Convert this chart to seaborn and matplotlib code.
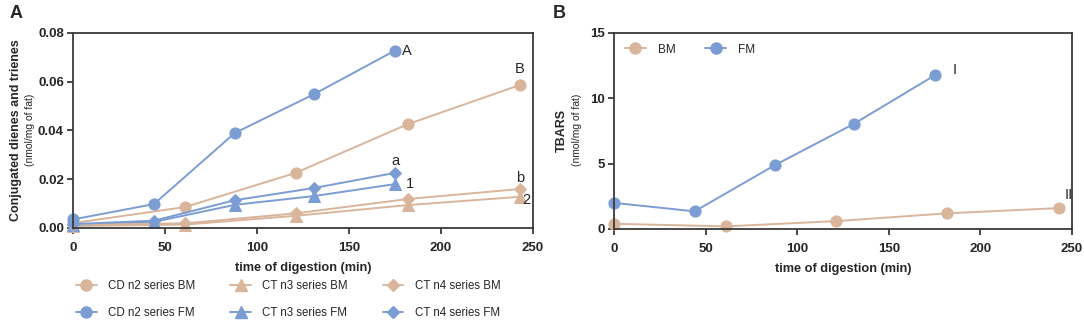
import numpy as np
import pandas as pd
import matplotlib
matplotlib.use("Agg")
import matplotlib.pyplot as plt
from matplotlib.lines import Line2D
import seaborn as sns

sns.set_style("ticks")
plt.rcParams['font.family'] = ['Liberation Sans', 'DejaVu Sans']

# time points (min)
t_fm = [0, 44, 88, 131, 175]
t_bm = [0, 61, 121, 182, 243]

# panel A: conjugated dienes / trienes (nmol/mg of fat)
cd_n2_bm = [0.002, 0.0086, 0.0226, 0.0426, 0.0587]
cd_n2_fm = [0.0035, 0.0098, 0.039, 0.0549, 0.0728]
ct_n3_bm = [0.0008, 0.0014, 0.005, 0.0094, 0.0128]
ct_n3_fm = [0.0012, 0.0025, 0.0095, 0.0131, 0.018]
ct_n4_bm = [0.0013, 0.0019, 0.006, 0.0119, 0.016]
ct_n4_fm = [0.0016, 0.003, 0.0114, 0.0164, 0.0226]

# panel B: TBARS (nmol/mg of fat)
tbars_bm = [0.4, 0.2, 0.6, 1.2, 1.6]
tbars_fm = [2.0, 1.35, 4.9, 8.05, 11.75]

blue = "#7b9dd3"
tan = "#d9b59b"
frame = "#3a3a3a"

fig = plt.figure(figsize=(10.84, 3.25), dpi=100)
axA = fig.add_axes([0.0673, 0.2985, 0.4244, 0.6])
axB = fig.add_axes([0.5664, 0.2954, 0.4225, 0.6031])

seriesA = [
    ("CD n2 series BM", t_bm, cd_n2_bm, tan, "o", 8),
    ("CD n2 series FM", t_fm, cd_n2_fm, blue, "o", 8),
    ("CT n3 series BM", t_bm, ct_n3_bm, tan, "^", 8.5),
    ("CT n3 series FM", t_fm, ct_n3_fm, blue, "^", 8.5),
    ("CT n4 series BM", t_bm, ct_n4_bm, tan, "D", 6),
    ("CT n4 series FM", t_fm, ct_n4_fm, blue, "D", 6),
]
for name, t, v, c, m, ms in seriesA:
    sns.lineplot(x=t, y=v, ax=axA, color=c, marker=m, markersize=ms,
                 markeredgecolor=c, linewidth=1.4, clip_on=False)

for name, t, v, c in [("BM", t_bm, tbars_bm, tan), ("FM", t_fm, tbars_fm, blue)]:
    sns.lineplot(x=t, y=v, ax=axB, color=c, marker="o", markersize=8,
                 markeredgecolor=c, linewidth=1.4, clip_on=False)

for ax in (axA, axB):
    ax.set_xlim(0, 250)
    ax.set_xticks([0, 50, 100, 150, 200, 250])
    for s in ax.spines.values():
        s.set_color(frame)
        s.set_linewidth(1.3)
    ax.tick_params(axis="both", labelsize=9.5, color=frame, width=1.3, length=4.5)
    ax.tick_params(axis="x", pad=5.5)
    ax.tick_params(axis="y", pad=2)
    for lab in ax.get_xticklabels() + ax.get_yticklabels():
        lab.set_fontweight("bold")
    ax.set_xlabel("time of digestion (min)", fontsize=9.2, fontweight="bold", labelpad=6)

axA.set_ylim(0, 0.08)
axA.set_yticks([0, 0.02, 0.04, 0.06, 0.08])
axA.set_yticklabels(["0.00", "0.02", "0.04", "0.06", "0.08"], fontweight="bold")
axB.set_ylim(0, 15)
axB.set_yticks([0, 5, 10, 15])
axB.set_yticklabels(["0", "5", "10", "15"], fontweight="bold")

# y labels (bold title + normal unit line)
fig.text(0.0145, 0.6, "Conjugated dienes and trienes", rotation=90, ha="center",
         va="center", fontsize=9, fontweight="bold")
fig.text(0.0278, 0.6, "(nmol/mg of fat)", rotation=90, ha="center", va="center", fontsize=7.5)
fig.text(0.5185, 0.6, "TBARS", rotation=90, ha="center", va="center",
         fontsize=9, fontweight="bold")
fig.text(0.532, 0.6, "(nmol/mg of fat)", rotation=90, ha="center", va="center", fontsize=7.5)

# panel letters
fig.text(0.009, 0.985, "A", fontsize=13, fontweight="bold", va="top")
fig.text(0.510, 0.985, "B", fontsize=13, fontweight="bold", va="top")

# end-of-line annotations
axA.text(179, 0.0728, "A", fontsize=10.5, va="center")
axA.text(243, 0.0625, "B", fontsize=10.5, ha="center", va="bottom")
axA.text(175, 0.0245, "a", fontsize=10.5, ha="center", va="bottom")
axA.text(181, 0.0182, "1", fontsize=10.5, va="center")
axA.text(243, 0.0175, "b", fontsize=10.5, ha="center", va="bottom")
axA.text(244, 0.0115, "2", fontsize=10.5, va="center")
axB.text(185, 12.2, "I", fontsize=10.5, va="center")
axB.text(246, 2.6, "II", fontsize=10.5, va="center")

# legends
handlesA = [Line2D([0], [0], color=c, marker=m, markersize=ms, markeredgecolor=c,
                   linewidth=1.4, label=name) for name, t, v, c, m, ms in seriesA]
fig.legend(handles=handlesA, loc="center", bbox_to_anchor=(0.266, 0.078), ncol=3,
           frameon=False, fontsize=8.3, columnspacing=3.0, handlelength=1.8,
           labelspacing=1.25, handletextpad=1.0)

handlesB = [Line2D([0], [0], color=tan, marker="o", markersize=8, linewidth=1.4, label="BM"),
            Line2D([0], [0], color=blue, marker="o", markersize=8, linewidth=1.4, label="FM")]
axB.legend(handles=handlesB, loc="upper left", ncol=2, frameon=False, fontsize=8.5,
           columnspacing=2.5, handlelength=1.8, handletextpad=1.0,
           bbox_to_anchor=(0.0, 1.0))

fig.savefig("out.png", dpi=100)
